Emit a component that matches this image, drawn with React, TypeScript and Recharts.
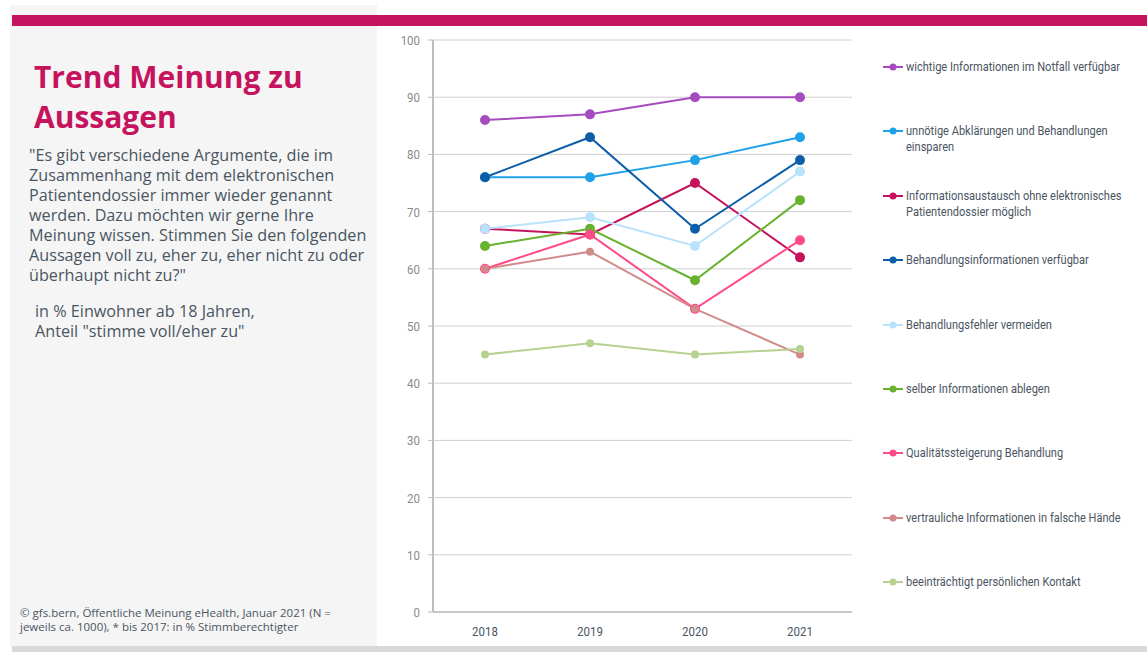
import React from 'react';
import { LineChart, Line, XAxis, YAxis, CartesianGrid, Legend } from 'recharts';

const years = ['2018', '2019', '2020', '2021'];
const notfall = [86, 87, 90, 90];
const abklaerungen = [76, 76, 79, 83];
const austausch = [67, 66, 75, 62];
const behandlungsinfo = [76, 83, 67, 79];
const fehler = [67, 69, 64, 77];
const ablegen = [64, 67, 58, 72];
const qualitaet = [60, 66, 53, 65];
const vertraulich = [60, 63, 53, 45];
const kontakt = [45, 47, 45, 46];
const yTicks = [0, 10, 20, 30, 40, 50, 60, 70, 80, 90, 100];

const seriesNames = [
  'wichtige Informationen im Notfall verfügbar',
  'unnötige Abklärungen und Behandlungen einsparen',
  'Informationsaustausch ohne elektronisches Patientendossier möglich',
  'Behandlungsinformationen verfügbar',
  'Behandlungsfehler vermeiden',
  'selber Informationen ablegen',
  'Qualitätssteigerung Behandlung',
  'vertrauliche Informationen in falsche Hände',
  'beeinträchtigt persönlichen Kontakt',
];
const seriesValues = [notfall, abklaerungen, austausch, behandlungsinfo, fehler, ablegen, qualitaet, vertraulich, kontakt];
const seriesColors = ['#a64bbf', '#1fa1ea', '#c5135e', '#0d5ea9', '#b9e3fb', '#68b22f', '#ff4b86', '#d28b8b', '#b7d193'];
const seriesRadius = [5, 5, 5, 5, 5, 5, 5, 4, 4];

const data = years.map((y, i) => {
  const row: any = { year: y };
  seriesValues.forEach((vals, k) => {
    row['s' + k] = vals[i];
  });
  return row;
});

const textColor = '#4a5562';
const legendFont = 'Roboto, "Noto Sans", sans-serif';
const SX = 0.85;
const LEGEND_TEXT_W = 226;

const renderLegend = (props: any) => {
  const payload = [...(props.payload || [])].sort(
    (a: any, b: any) => seriesNames.indexOf(a.value) - seriesNames.indexOf(b.value)
  );
  return (
    <div style={{ width: 250 }}>
      {payload.map((p: any, i: number) => (
        <div key={i} style={{ height: 64.4, display: 'flex', alignItems: 'flex-start' }}>
          <svg width={23} height={16} style={{ flex: '0 0 23px' }}>
            <line x1={0} y1={8} x2={20} y2={8} stroke={p.color} strokeWidth={2} />
            <circle cx={10} cy={8} r={3.5} fill={p.color} />
          </svg>
          <div
            style={{
              width: LEGEND_TEXT_W / SX,
              flex: `0 0 ${LEGEND_TEXT_W / SX}px`,
              fontFamily: legendFont,
              fontSize: 13,
              lineHeight: '16px',
              color: textColor,
              transform: `scaleX(${SX})`,
              transformOrigin: 'left top',
            }}
          >
            {p.value}
          </div>
        </div>
      ))}
    </div>
  );
};

const CondTick = (props: any) => {
  const { x, y, payload, fill, anchor, dy } = props;
  return (
    <text
      x={0}
      y={0}
      transform={`translate(${x},${y}) scale(${SX},1)`}
      textAnchor={anchor}
      dy={dy}
      fill={fill}
      fontSize={13.5}
      fontFamily={legendFont}
    >
      {payload.value}
    </text>
  );
};

export default function App() {
  const bodyFont = '"Open Sans", "Noto Sans", sans-serif';
  return (
    <div style={{ position: 'absolute', left: 0, top: 0, width: 1147, height: 652, background: '#ffffff', overflow: 'hidden' }}>
      <div style={{ position: 'absolute', left: 10, top: 5, width: 367, height: 641, background: '#f5f5f5' }} />
      <div style={{ position: 'absolute', left: 12, top: 15, width: 1135, height: 11, background: '#c5135e' }} />
      <div style={{ position: 'absolute', left: 12, top: 646, width: 1135, height: 6, background: '#d9d9d9' }} />

      <div
        style={{
          position: 'absolute',
          left: 34,
          top: 57,
          fontFamily: bodyFont,
          fontWeight: 700,
          fontSize: 30,
          lineHeight: '40px',
          color: '#c5135e',
          whiteSpace: 'nowrap',
        }}
      >
        Trend Meinung zu
        <br />
        Aussagen
      </div>

      <div
        style={{
          position: 'absolute',
          left: 29,
          top: 145,
          fontFamily: bodyFont,
          fontSize: 16.2,
          lineHeight: '20px',
          color: textColor,
          whiteSpace: 'nowrap',
        }}
      >
        "Es gibt verschiedene Argumente, die im
        <br />
        Zusammenhang mit dem elektronischen
        <br />
        Patientendossier immer wieder genannt
        <br />
        werden. Dazu möchten wir gerne Ihre
        <br />
        Meinung wissen. Stimmen Sie den folgenden
        <br />
        Aussagen voll zu, eher zu, eher nicht zu oder
        <br />
        überhaupt nicht zu?"
      </div>

      <div
        style={{
          position: 'absolute',
          left: 35,
          top: 301,
          fontFamily: bodyFont,
          fontSize: 16.2,
          lineHeight: '20px',
          color: textColor,
          whiteSpace: 'nowrap',
        }}
      >
        in % Einwohner ab 18 Jahren,
        <br />
        Anteil "stimme voll/eher zu"
      </div>

      <div
        style={{
          position: 'absolute',
          left: 20,
          top: 606,
          fontFamily: bodyFont,
          fontSize: 11.5,
          lineHeight: '14px',
          color: textColor,
          whiteSpace: 'nowrap',
        }}
      >
        © gfs.bern, Öffentliche Meinung eHealth, Januar 2021 (N =
        <br />
        jeweils ca. 1000), * bis 2017: in % Stimmberechtigter
      </div>

      <div style={{ position: 'absolute', left: 0, top: 0 }}>
        <LineChart width={1147} height={652} data={data} margin={{ top: 40, right: 45, left: 393, bottom: 10 }}>
          <CartesianGrid vertical={false} stroke="#d0d0d0" strokeWidth={1} />
          <XAxis
            dataKey="year"
            height={30}
            padding={{ left: 52, right: 52 }}
            tickLine={false}
            tickSize={0}
            tickMargin={8}
            axisLine={{ stroke: '#bdbdbd', strokeWidth: 1.5 }}
            tick={<CondTick fill={textColor} anchor="middle" dy={16} />}
          />
          <YAxis
            width={40}
            domain={[0, 100]}
            ticks={yTicks}
            interval={0}
            tickSize={5}
            tickMargin={8}
            axisLine={{ stroke: '#bdbdbd', strokeWidth: 2 }}
            tickLine={{ stroke: '#bdbdbd' }}
            tick={<CondTick fill="#8a8a8a" anchor="end" dy={5} />}
          />
          <Legend
            layout="vertical"
            align="right"
            verticalAlign="top"
            content={renderLegend}
            wrapperStyle={{ left: 883, top: 59, width: 250 }}
          />
          {seriesNames.map((name, k) => (
            <Line
              key={name}
              type="linear"
              dataKey={'s' + k}
              name={name}
              stroke={seriesColors[k]}
              strokeWidth={2}
              dot={{ r: seriesRadius[k], fill: seriesColors[k], stroke: seriesColors[k], strokeWidth: 0 }}
              activeDot={false}
              isAnimationActive={false}
            />
          ))}
        </LineChart>
      </div>
    </div>
  );
}
